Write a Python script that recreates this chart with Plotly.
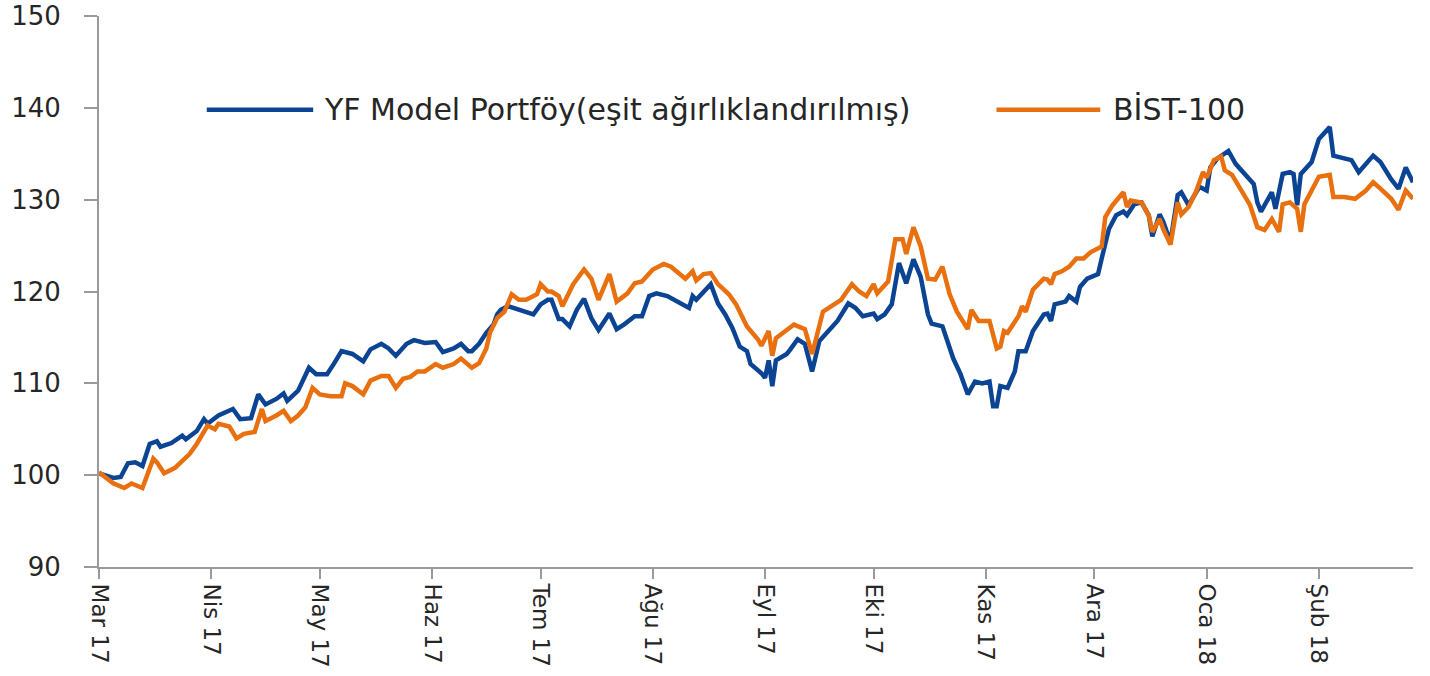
import plotly.graph_objects as go

# ---- data ----
yf_dates = [
    "2017-03-01","2017-03-05","2017-03-07","2017-03-09","2017-03-11","2017-03-13","2017-03-15","2017-03-17",
    "2017-03-18","2017-03-21","2017-03-24","2017-03-25","2017-03-28","2017-03-30","2017-03-31","2017-04-03",
    "2017-04-07","2017-04-09","2017-04-12","2017-04-14","2017-04-16","2017-04-19","2017-04-21","2017-04-22",
    "2017-04-25","2017-04-28","2017-04-30","2017-05-03","2017-05-05","2017-05-07","2017-05-10","2017-05-13",
    "2017-05-15","2017-05-18","2017-05-20","2017-05-22","2017-05-25","2017-05-27","2017-05-30","2017-06-02",
    "2017-06-04","2017-06-07","2017-06-09","2017-06-11","2017-06-12","2017-06-14","2017-06-16","2017-06-18",
    "2017-06-19","2017-06-20","2017-06-22","2017-06-25","2017-06-27","2017-06-29","2017-07-01","2017-07-03",
    "2017-07-04","2017-07-06","2017-07-07","2017-07-09","2017-07-11","2017-07-13","2017-07-15","2017-07-17",
    "2017-07-20","2017-07-22","2017-07-24","2017-07-27","2017-07-29","2017-07-31","2017-08-02","2017-08-05",
    "2017-08-11","2017-08-12","2017-08-13","2017-08-15","2017-08-17","2017-08-19","2017-08-21","2017-08-23",
    "2017-08-25","2017-08-27","2017-08-28","2017-08-31","2017-09-01","2017-09-02","2017-09-03","2017-09-04",
    "2017-09-07","2017-09-08","2017-09-10","2017-09-12","2017-09-14","2017-09-16","2017-09-18","2017-09-21",
    "2017-09-24","2017-09-26","2017-09-28","2017-10-01","2017-10-02","2017-10-04","2017-10-06","2017-10-08",
    "2017-10-10","2017-10-12","2017-10-14","2017-10-16","2017-10-17","2017-10-20","2017-10-23","2017-10-25",
    "2017-10-27","2017-10-29","2017-10-31","2017-11-02","2017-11-03","2017-11-04","2017-11-05","2017-11-07",
    "2017-11-09","2017-11-10","2017-11-12","2017-11-14","2017-11-17","2017-11-18","2017-11-19","2017-11-20",
    "2017-11-23","2017-11-24","2017-11-26","2017-11-27","2017-11-29","2017-12-02","2017-12-03","2017-12-05",
    "2017-12-07","2017-12-09","2017-12-10","2017-12-12","2017-12-14","2017-12-16","2017-12-17","2017-12-19",
    "2017-12-20","2017-12-22","2017-12-24","2017-12-25","2017-12-27","2017-12-28","2017-12-30","2018-01-01",
    "2018-01-02","2018-01-04","2018-01-07","2018-01-09","2018-01-12","2018-01-14","2018-01-15","2018-01-16",
    "2018-01-19","2018-01-20","2018-01-22","2018-01-24","2018-01-25","2018-01-26","2018-01-27","2018-01-30",
    "2018-02-01","2018-02-02","2018-02-04","2018-02-05","2018-02-07","2018-02-10","2018-02-12","2018-02-14",
    "2018-02-16","2018-02-18","2018-02-21","2018-02-23","2018-02-25","2018-02-27",
]
yf_values = [
    100.2, 99.7, 99.8, 101.3, 101.4, 101.0, 103.4, 103.7,
    103.1, 103.5, 104.3, 103.9, 104.8, 106.1, 105.6, 106.5,
    107.2, 106.1, 106.2, 108.8, 107.7, 108.3, 108.9, 108.1,
    109.2, 111.7, 111.0, 111.0, 112.2, 113.5, 113.2, 112.4,
    113.7, 114.3, 113.8, 113.0, 114.3, 114.7, 114.4, 114.5,
    113.4, 113.8, 114.3, 113.5, 113.5, 114.3, 115.5, 116.4,
    117.5, 118.0, 118.4, 118.0, 117.8, 117.5, 118.6, 119.1,
    119.1, 117.0, 117.0, 116.2, 118.0, 119.2, 117.1, 115.8,
    117.6, 115.9, 116.4, 117.3, 117.3, 119.5, 119.8, 119.5,
    118.2, 119.5, 119.1, 120.0, 120.8, 118.7, 117.5, 116.0,
    114.0, 113.5, 112.1, 111.1, 110.6, 112.5, 109.7, 112.5,
    113.2, 113.7, 114.8, 114.3, 111.3, 114.6, 115.5, 116.8,
    118.7, 118.2, 117.3, 117.6, 117.0, 117.5, 118.6, 123.1,
    120.9, 123.5, 121.6, 117.5, 116.5, 116.2, 112.7, 111.0,
    108.8, 110.2, 110.0, 110.2, 107.5, 107.5, 109.7, 109.5,
    111.3, 113.5, 113.5, 115.7, 117.5, 117.6, 116.8, 118.6,
    118.9, 119.5, 118.9, 120.5, 121.4, 121.9, 123.6, 126.8,
    128.3, 128.7, 128.3, 129.5, 129.7, 128.3, 126.0, 128.4,
    127.6, 125.4, 130.5, 130.8, 129.4, 130.1, 131.4, 131.0,
    133.5, 134.5, 135.3, 133.9, 132.5, 131.7, 129.7, 128.7,
    130.8, 129.0, 132.8, 133.0, 132.8, 129.4, 132.8, 134.1,
    136.6, 137.0, 137.9, 134.8, 134.6, 134.3, 133.0, 133.9,
    134.8, 134.1, 132.2, 131.2, 133.5, 131.9,
]

bist_dates = [
    "2017-03-01","2017-03-03","2017-03-05","2017-03-08","2017-03-10","2017-03-13","2017-03-16","2017-03-17",
    "2017-03-19","2017-03-22","2017-03-24","2017-03-26","2017-03-28","2017-03-31","2017-04-02","2017-04-03",
    "2017-04-06","2017-04-08","2017-04-10","2017-04-13","2017-04-15","2017-04-16","2017-04-19","2017-04-21",
    "2017-04-23","2017-04-25","2017-04-27","2017-04-29","2017-05-01","2017-05-04","2017-05-07","2017-05-08",
    "2017-05-10","2017-05-13","2017-05-15","2017-05-18","2017-05-20","2017-05-22","2017-05-24","2017-05-26",
    "2017-05-28","2017-05-30","2017-06-02","2017-06-04","2017-06-07","2017-06-09","2017-06-12","2017-06-14",
    "2017-06-16","2017-06-17","2017-06-19","2017-06-21","2017-06-23","2017-06-25","2017-06-27","2017-06-30",
    "2017-07-01","2017-07-03","2017-07-04","2017-07-06","2017-07-07","2017-07-10","2017-07-13","2017-07-15",
    "2017-07-17","2017-07-20","2017-07-22","2017-07-25","2017-07-27","2017-07-29","2017-08-01","2017-08-04",
    "2017-08-06","2017-08-10","2017-08-12","2017-08-13","2017-08-15","2017-08-17","2017-08-19","2017-08-22",
    "2017-08-24","2017-08-26","2017-08-27","2017-08-30","2017-08-31","2017-09-02","2017-09-03","2017-09-04",
    "2017-09-06","2017-09-09","2017-09-12","2017-09-14","2017-09-17","2017-09-20","2017-09-22","2017-09-25",
    "2017-09-27","2017-09-29","2017-10-01","2017-10-02","2017-10-05","2017-10-07","2017-10-09","2017-10-10",
    "2017-10-12","2017-10-14","2017-10-16","2017-10-18","2017-10-20","2017-10-22","2017-10-24","2017-10-27",
    "2017-10-28","2017-10-30","2017-11-02","2017-11-04","2017-11-05","2017-11-06","2017-11-07","2017-11-10",
    "2017-11-11","2017-11-12","2017-11-14","2017-11-17","2017-11-18","2017-11-19","2017-11-20","2017-11-22",
    "2017-11-24","2017-11-26","2017-11-28","2017-11-30","2017-12-03","2017-12-04","2017-12-06","2017-12-09",
    "2017-12-10","2017-12-11","2017-12-14","2017-12-16","2017-12-17","2017-12-19","2017-12-20","2017-12-22",
    "2017-12-24","2017-12-25","2017-12-27","2017-12-29","2017-12-31","2018-01-01","2018-01-03","2018-01-05",
    "2018-01-06","2018-01-08","2018-01-11","2018-01-13","2018-01-15","2018-01-17","2018-01-19","2018-01-21",
    "2018-01-22","2018-01-24","2018-01-26","2018-01-27","2018-01-28","2018-01-30","2018-02-01","2018-02-04",
    "2018-02-05","2018-02-08","2018-02-11","2018-02-14","2018-02-16","2018-02-18","2018-02-21","2018-02-23",
    "2018-02-25","2018-02-27",
]
bist_values = [
    100.3, 99.7, 99.1, 98.6, 99.1, 98.6, 101.8, 101.4,
    100.2, 100.8, 101.6, 102.3, 103.4, 105.4, 105.0, 105.6,
    105.3, 104.0, 104.5, 104.7, 107.2, 105.9, 106.5, 107.0,
    105.9, 106.5, 107.4, 109.5, 108.8, 108.6, 108.6, 110.0,
    109.7, 108.8, 110.3, 110.8, 110.8, 109.5, 110.5, 110.7,
    111.3, 111.3, 112.1, 111.7, 112.1, 112.7, 111.7, 112.2,
    113.8, 115.5, 117.1, 117.8, 119.7, 119.1, 119.1, 119.7,
    120.8, 120.0, 120.0, 119.5, 118.4, 120.8, 122.4, 121.4,
    119.1, 121.9, 118.9, 119.8, 120.9, 121.1, 122.4, 123.0,
    122.7, 121.4, 122.2, 121.2, 121.9, 122.0, 120.8, 119.7,
    118.6, 116.8, 116.2, 114.8, 114.1, 115.7, 113.0, 114.9,
    115.5, 116.4, 115.9, 113.2, 117.8, 118.6, 119.1, 120.8,
    120.0, 119.5, 120.8, 119.8, 121.1, 125.7, 125.7, 124.1,
    127.0, 124.9, 121.4, 121.3, 122.7, 119.7, 117.8, 115.9,
    118.0, 116.8, 116.8, 113.8, 114.0, 115.7, 115.5, 117.3,
    118.4, 117.8, 120.2, 121.4, 121.3, 120.8, 121.9, 122.2,
    122.7, 123.6, 123.6, 124.3, 124.9, 128.1, 129.4, 130.8,
    129.2, 129.9, 129.7, 128.3, 126.5, 127.9, 126.8, 125.1,
    129.7, 128.4, 129.2, 130.8, 133.0, 132.4, 134.3, 134.7,
    133.2, 132.7, 130.8, 129.4, 127.0, 126.7, 127.9, 126.5,
    129.5, 129.7, 129.0, 126.5, 129.5, 131.1, 132.5, 132.7,
    130.3, 130.3, 130.1, 131.0, 131.9, 131.2, 130.1, 128.9,
    131.0, 130.1,
]

series_names = ["YF Model Portföy(eşit ağırlıklandırılmış)", "BİST-100"]
tick_dates = ["2017-03-01","2017-04-01","2017-05-01","2017-06-01","2017-07-01","2017-08-01",
              "2017-09-01","2017-10-01","2017-11-01","2017-12-01","2018-01-01","2018-02-01"]
tick_labels = ["Mar 17","Nis 17","May 17","Haz 17","Tem 17","Ağu 17",
               "Eyl 17","Eki 17","Kas 17","Ara 17","Oca 18","Şub 18"]
y_ticks = [90, 100, 110, 120, 130, 140, 150]

BLUE = "#0a4493"
ORANGE = "#e8700f"
FONT = "DejaVu Sans, Liberation Sans, Arial, sans-serif"
TXT = "#262626"
AX = "#9a9a9a"

fig = go.Figure()
fig.add_trace(go.Scatter(x=yf_dates, y=yf_values, mode="lines", name=series_names[0],
                         line=dict(color=BLUE, width=4.5), showlegend=False))
fig.add_trace(go.Scatter(x=bist_dates, y=bist_values, mode="lines", name=series_names[1],
                         line=dict(color=ORANGE, width=4.5), showlegend=False))

# manual legend (long line samples as in the reference)
leg_y = 0.83
legend_items = [(0.082, 0.163, 0.170, BLUE, series_names[0]),
                (0.683, 0.762, 0.770, ORANGE, series_names[1])]
for x0, x1, xt, col, txt in legend_items:
    fig.add_shape(type="line", xref="paper", yref="paper", x0=x0, x1=x1, y0=leg_y, y1=leg_y,
                  line=dict(color=col, width=4.5))
    fig.add_annotation(xref="paper", yref="paper", x=xt, y=leg_y, text=txt, showarrow=False,
                       xanchor="left", yanchor="middle", font=dict(family=FONT, size=30, color=TXT))

fig.update_layout(
    width=1430, height=676,
    margin=dict(l=99, r=17, t=16, b=109),
    paper_bgcolor="white", plot_bgcolor="white",
    font=dict(family=FONT, size=26, color=TXT),
)
fig.update_xaxes(
    type="date", range=["2017-03-01", "2018-02-27"], automargin=False,
    tickmode="array", tickvals=tick_dates, ticktext=tick_labels, tickangle=90,
    ticks="outside", ticklen=10, tickwidth=2, tickcolor=AX,
    showline=True, linecolor=AX, linewidth=2, showgrid=False, zeroline=False,
    tickfont=dict(family=FONT, size=23, color=TXT), ticklabeloverflow="allow",
)
fig.update_yaxes(
    range=[90, 150], tickmode="array", tickvals=y_ticks, automargin=False,
    ticks="outside", ticklen=13, tickwidth=2, tickcolor=AX,
    showline=True, linecolor=AX, linewidth=2, showgrid=False, zeroline=False,
    tickfont=dict(family=FONT, size=26, color=TXT), ticklabelstandoff=18,
    ticklabeloverflow="allow",
)

fig.write_html(
    "out.html",
    config={"displayModeBar": False},
    post_script="document.body.style.margin='0';document.body.style.padding='0';"
                "document.body.style.overflow='hidden';",
)
